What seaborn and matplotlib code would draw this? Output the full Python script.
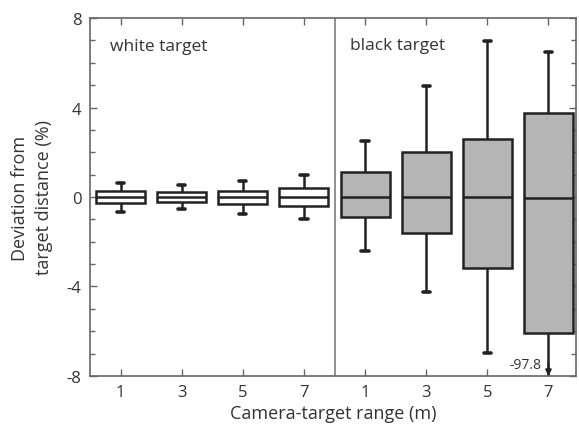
import numpy as np
import pandas as pd
import seaborn as sns
import matplotlib
matplotlib.use("Agg")
import matplotlib.pyplot as plt
from matplotlib.ticker import MultipleLocator

# ---- data ----
targets = ["white", "white", "white", "white", "black", "black", "black", "black"]
ranges = ["1", "3", "5", "7", "1", "3", "5", "7"]
whisker_low = [-0.67, -0.54, -0.76, -1.0, -2.4, -4.25, -6.96, -97.8]
q1 = [-0.27, -0.22, -0.31, -0.40, -0.9, -1.6, -3.17, -6.1]
median = [0.0, 0.0, 0.0, 0.0, 0.0, 0.0, 0.0, -0.05]
q3 = [0.27, 0.22, 0.27, 0.40, 1.1, 2.0, 2.6, 3.75]
whisker_high = [0.62, 0.54, 0.71, 1.0, 2.5, 4.95, 6.96, 6.5]
outlier_label = "-97.8"
panel_labels = ["white target", "black target"]
yticks = [-8, -4, 0, 4, 8]

rows = []
for i in range(len(targets)):
    for v in (whisker_low[i], q1[i], median[i], q3[i], whisker_high[i]):
        rows.append({"pos": str(i), "target": targets[i], "value": v})
df = pd.DataFrame(rows)

sns.set_style("ticks")
plt.rcParams["font.family"] = ["Open Sans", "DejaVu Sans"]
plt.rcParams["axes.unicode_minus"] = False
txt = "#333333"
frame = "#666666"

fig = plt.figure(figsize=(5.79, 4.27), dpi=100)
ax = fig.add_axes([0.1554, 0.1171, 0.8394, 0.8384])

sns.boxplot(
    data=df, x="pos", y="value", hue="target",
    order=[str(i) for i in range(len(targets))],
    palette={"white": "white", "black": "#b5b5b5"},
    dodge=False, width=0.8, whis=np.inf, fliersize=0,
    linecolor="#222222", linewidth=1.8, legend=False,
    capwidths=0.12,
    capprops=dict(linewidth=2.6),
    ax=ax,
)

ax.set_ylim(-8, 8)
ax.set_xlim(-0.5, 7.45)
ax.yaxis.set_major_locator(MultipleLocator(4))
ax.yaxis.set_minor_locator(MultipleLocator(1))
ax.set_yticks(yticks)
ax.set_xticks(range(len(ranges)))
ax.set_xticklabels(ranges)
ax.tick_params(axis="both", which="both", direction="in", top=True, right=True,
               color=frame, labelcolor=txt, labelsize=12, width=1.0)
ax.tick_params(axis="both", which="major", length=5)
ax.tick_params(axis="y", which="minor", length=3.5)
ax.tick_params(axis="x", which="major", pad=6)
ax.tick_params(axis="y", which="major", pad=6)
for s in ax.spines.values():
    s.set_color(frame)
    s.set_linewidth(1.2)

ax.axvline(3.5, color="#888888", lw=1.3)

ax.text(-0.17, 6.75, panel_labels[0], fontsize=12.5, color=txt, va="center")
ax.text(3.76, 6.8, panel_labels[1], fontsize=12.5, color=txt, va="center")

# arrow for the off-scale whisker
ax.annotate("", xy=(7, -8), xytext=(7, -7.4),
            arrowprops=dict(arrowstyle="-|>", color="#222222", lw=1.5,
                            mutation_scale=8, shrinkA=0, shrinkB=0),
            annotation_clip=False)
ax.text(6.89, -7.5, outlier_label, fontsize=10, color=txt, ha="right", va="center")

ax.set_xlabel("Camera-target range (m)", fontsize=13, color=txt, labelpad=3)
ax.set_ylabel("Deviation from\ntarget distance (%)", fontsize=13, color=txt,
              labelpad=10, linespacing=1.45)

fig.savefig("out.png", dpi=100)
